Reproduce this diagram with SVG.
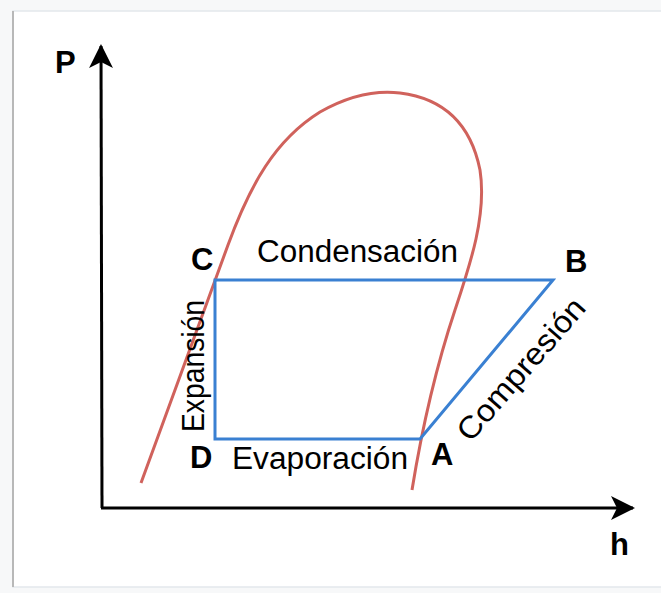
<svg xmlns="http://www.w3.org/2000/svg" width="661" height="593" viewBox="0 0 661 593">
<defs>
<style>
.lbl{font-family:"Liberation Sans",Arial,sans-serif;font-weight:bold;font-size:31px;fill:#000}
.txt{font-family:"Liberation Sans",Arial,sans-serif;font-size:31px;fill:#000}
.axis{stroke:#000;stroke-width:3;fill:none}
.cyc{stroke:#3a80d2;stroke-width:3;fill:none}
.sat{stroke:#d0625c;stroke-width:3;fill:none}
</style>
<marker id="ah" viewBox="0 0 24 24" refX="22" refY="12" markerWidth="24" markerHeight="24" markerUnits="userSpaceOnUse" orient="auto">
<path d="M0,0 L24,12 L0,24 L6,12 Z" fill="#000"/>
</marker>
</defs>
<rect x="0" y="0" width="661" height="593" fill="#f7f8f9"/>
<rect x="13" y="11" width="660" height="576" fill="#fff" stroke="#e3e7ec" stroke-width="1.5"/>
<line x1="13" y1="11" x2="13" y2="587" stroke="#b8b8b8" stroke-width="2"/>
<g id="connectors">
<path id="axis-p" class="axis" d="M102,508 L101,46" marker-end="url(#ah)"/>
<path id="axis-h" class="axis" d="M101,508 L633,508" marker-end="url(#ah)"/>
<path id="saturation" class="sat" d="M141,483 L228,245 C250,185 275,140 320,112 C350,95 375,90 400,93 C440,98 470,120 480,170 C487,215 470,265 455,310 C440,355 425,410 412,490"/>
<path id="cycle" class="cyc" d="M215,280 L553,280 L420,439 L215,439 Z"/>
</g>
<g id="node-P"><text class="lbl" x="55" y="73">P</text></g>
<g id="node-h"><text class="lbl" x="610" y="555">h</text></g>
<g id="node-C"><text class="lbl" x="191" y="270">C</text></g>
<g id="node-B"><text class="lbl" x="565" y="272">B</text></g>
<g id="node-A"><text class="lbl" x="431" y="465">A</text></g>
<g id="node-D"><text class="lbl" x="190" y="468">D</text></g>
<g id="label-condensacion"><text class="txt" x="257" y="262" textLength="201" lengthAdjust="spacingAndGlyphs">Condensación</text></g>
<g id="label-evaporacion"><text class="txt" x="232" y="469" textLength="176" lengthAdjust="spacingAndGlyphs">Evaporación</text></g>
<g id="label-expansion"><text class="txt" transform="translate(204,366) rotate(-90)" x="0" y="0" text-anchor="middle" textLength="132" lengthAdjust="spacingAndGlyphs">Expansión</text></g>
<g id="label-compresion"><text class="txt" transform="translate(529,376) rotate(-49)" x="0" y="0" text-anchor="middle" textLength="178" lengthAdjust="spacingAndGlyphs">Compresión</text></g>
</svg>
